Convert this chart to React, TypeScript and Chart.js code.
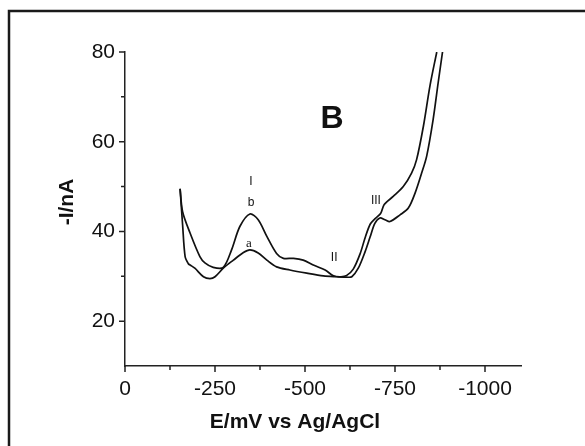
import React, { useEffect, useRef } from "react";
import { Chart, registerables } from "chart.js";

Chart.register(...registerables);

// Tick labels
const xTickLabels = [0, -250, -500, -750, -1000];
const yTickLabels = [20, 40, 60, 80];

// Curve a (lower peak I)
const curveA_E = [-153, -160, -167, -176, -181, -194, -218, -236, -250, -273, -301, -329, -347, -370, -394, -421, -458, -505, -551, -588, -616, -630, -648, -667, -681, -694, -708, -722, -736, -764, -787, -806, -824, -838, -856, -870, -882];
const curveA_I = [49.5, 41.5, 34.4, 32.8, 32.5, 31.8, 29.9, 29.5, 29.9, 31.8, 33.6, 35.3, 35.9, 35.2, 33.6, 32.1, 31.4, 30.7, 30.1, 29.9, 29.8, 29.9, 31.8, 35.5, 38.8, 41.8, 43.0, 42.6, 42.2, 43.7, 45.2, 48.6, 53.0, 56.8, 65.0, 73.2, 80.0];

// Curve b (higher peak I)
const curveB_E = [-153, -160, -181, -208, -222, -245, -273, -296, -319, -347, -370, -394, -421, -440, -468, -495, -523, -556, -579, -600, -616, -634, -653, -667, -681, -694, -710, -720, -745, -773, -796, -810, -829, -847, -866];
const curveB_I = [49.5, 44.4, 39.6, 34.4, 33.0, 32.0, 32.0, 35.9, 41.1, 43.9, 42.6, 38.9, 35.1, 34.0, 34.0, 33.6, 32.5, 31.4, 30.1, 29.9, 30.2, 31.6, 35.0, 38.6, 41.6, 42.8, 44.0, 46.0, 47.8, 50.0, 53.0, 56.0, 63.5, 72.4, 80.0];

// Annotation texts and their data positions (E, I)
const noteTexts = ["B", "I", "b", "a", "II", "III"];
const noteE = [-575, -350, -350, -344, -581, -697];
const noteI = [65, 51.1, 46.4, 37.4, 34.1, 46.8];

const xTitle = "E/mV vs Ag/AgCl";
const yTitle = "-I/nA";

const SANS = "'Liberation Sans', Arial, Helvetica, sans-serif";

const decorPlugin = {
  id: "decor",
  afterDraw(chart: any) {
    const { ctx, chartArea, scales } = chart;
    const x = scales.x;
    const y = scales.y;
    ctx.save();
    // outer frame
    ctx.strokeStyle = "#1a1a1a";
    ctx.lineWidth = 2.5;
    ctx.strokeRect(9, 11, 800, 800);

    // ticks
    ctx.strokeStyle = "#222";
    ctx.lineWidth = 1.5;
    ctx.beginPath();
    x.ticks.forEach((t: any) => {
      if (t.value % 125 !== 0) return;
      const px = x.getPixelForValue(t.value);
      const major = xTickLabels.includes(t.value);
      ctx.moveTo(px, chartArea.bottom);
      ctx.lineTo(px, chartArea.bottom + (major ? 6 : 4));
    });
    y.ticks.forEach((t: any) => {
      if (t.value <= 10) return;
      const py = y.getPixelForValue(t.value);
      const major = yTickLabels.includes(t.value);
      ctx.moveTo(chartArea.left, py);
      ctx.lineTo(chartArea.left - (major ? 6 : 4), py);
    });
    ctx.stroke();

    // axis titles
    ctx.fillStyle = "#111";
    ctx.textAlign = "center";
    ctx.textBaseline = "middle";
    ctx.font = "bold 21px " + SANS;
    ctx.fillText(xTitle, chartArea.left + 170, chartArea.bottom + 56);
    ctx.save();
    ctx.translate(chartArea.left - 58, 202);
    ctx.rotate(-Math.PI / 2);
    ctx.fillText(yTitle, 0, 0);
    ctx.restore();

    // annotations
    noteTexts.forEach((txt, i) => {
      const px = x.getPixelForValue(noteE[i]);
      const py = y.getPixelForValue(noteI[i]);
      if (txt === "B") ctx.font = "bold 32px " + SANS;
      else if (txt === "a") ctx.font = "13px 'Liberation Serif', 'Times New Roman', serif";
      else ctx.font = "12px " + SANS;
      ctx.fillText(txt, px, py);
    });
    ctx.restore();
  },
};

export default function App() {
  const ref = useRef<HTMLCanvasElement | null>(null);
  useEffect(() => {
    if (!ref.current) return;
    const dataA = curveA_E.map((e, i) => ({ x: e, y: curveA_I[i] }));
    const dataB = curveB_E.map((e, i) => ({ x: e, y: curveB_I[i] }));
    const chart = new Chart(ref.current, {
      type: "line",
      data: {
        datasets: [
          { label: "a", data: dataA, borderColor: "#111", borderWidth: 1.7, pointRadius: 0, tension: 0.3, fill: false },
          { label: "b", data: dataB, borderColor: "#111", borderWidth: 1.7, pointRadius: 0, tension: 0.3, fill: false },
        ],
      },
      options: {
        responsive: false,
        animation: false,
        layout: { padding: { top: 52, right: 64, left: 0, bottom: 0 } },
        plugins: { legend: { display: false }, tooltip: { enabled: false } },
        scales: {
          x: {
            type: "linear",
            min: -1100,
            max: 0,
            reverse: true,
            afterFit: (s: any) => { s.height = 80; },
            grid: { display: false, drawTicks: true, tickLength: 7 },
            border: { display: true, color: "#222", width: 1.5 },
            ticks: {
              stepSize: 125,
              includeBounds: false,
              autoSkip: false,
              maxRotation: 0,
              padding: 4,
              color: "#111",
              font: { size: 21, family: SANS },
              callback: (v: any) => (xTickLabels.includes(Number(v)) ? String(v) : ""),
            },
          },
          y: {
            type: "linear",
            min: 10,
            max: 80,
            afterFit: (s: any) => { s.width = 125; },
            grid: { display: false, drawTicks: true, tickLength: 7 },
            border: { display: true, color: "#222", width: 1.5 },
            ticks: {
              stepSize: 10,
              autoSkip: false,
              padding: 3,
              color: "#111",
              font: { size: 21, family: SANS },
              callback: (v: any) => (yTickLabels.includes(Number(v)) ? String(v) : ""),
            },
          },
        },
      },
      plugins: [decorPlugin],
    });
    return () => chart.destroy();
  }, []);
  return (
    <div style={{ position: "fixed", left: 0, top: 0, width: 585, height: 446, background: "#fff" }}>
      <canvas ref={ref} width={585} height={446} style={{ display: "block" }} />
    </div>
  );
}
